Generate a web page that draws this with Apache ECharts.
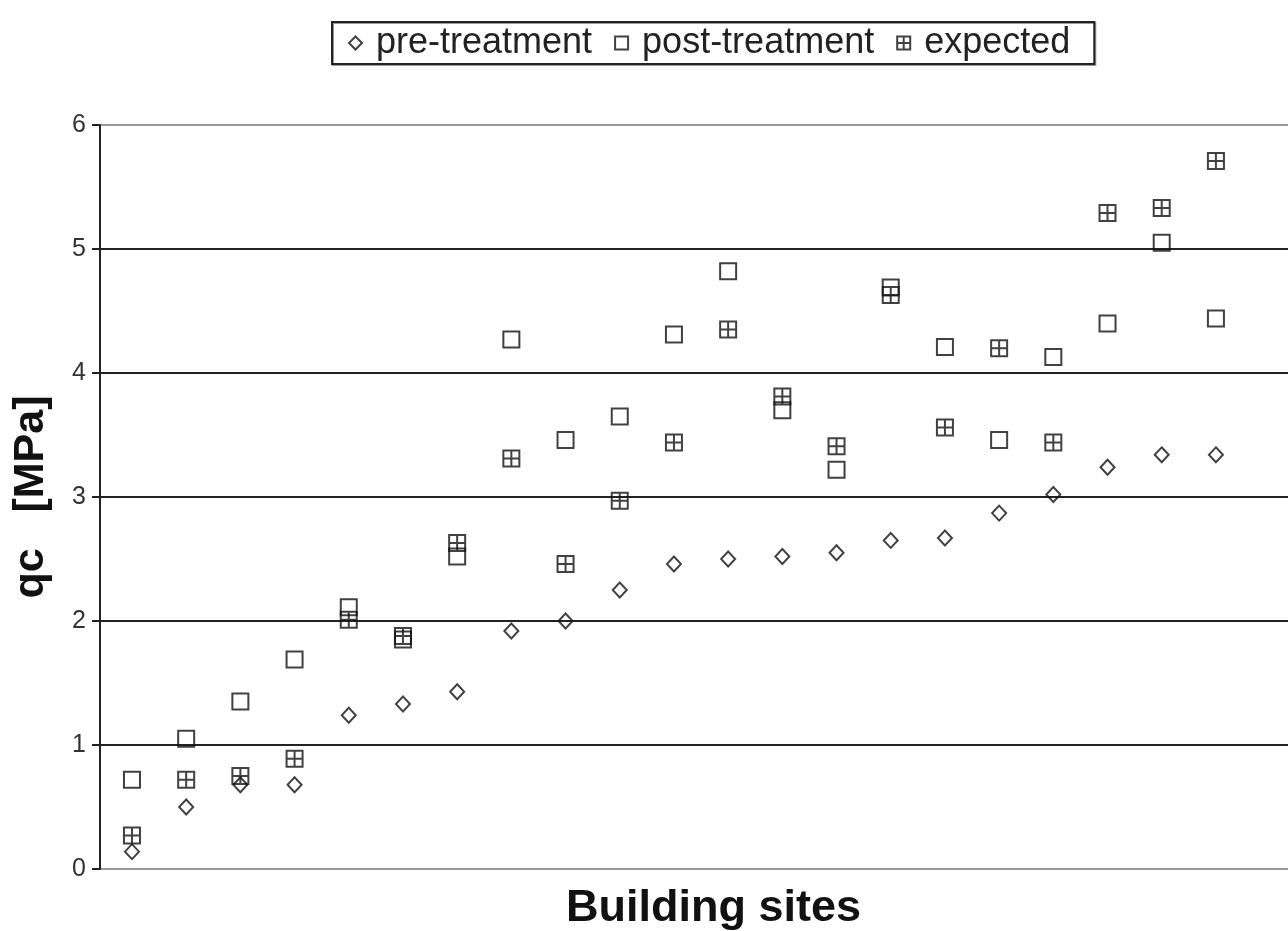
<!DOCTYPE html>
<html>
<head>
<meta charset="utf-8">
<script src="https://cdn.jsdelivr.net/npm/echarts@6/dist/echarts.min.js"></script>
<style>html,body{margin:0;padding:0;background:#fff}#c{width:1288px;height:931px}</style>
</head>
<body>
<div id="c"></div>
<script>
const sites = [1,2,3,4,5,6,7,8,9,10,11,12,13,14,15,16,17,18,19,20,21];
const preTreatment = [0.14,0.50,0.68,0.68,1.24,1.33,1.43,1.92,2.00,2.25,2.46,2.50,2.52,2.55,2.65,2.67,2.87,3.02,3.24,3.34,3.34];
const postTreatment = [0.72,1.05,1.35,1.69,2.11,1.85,2.52,4.27,3.46,3.65,4.31,4.82,3.70,3.22,4.69,4.21,3.46,4.13,4.40,5.05,4.44];
const expected = [0.27,0.72,0.75,0.89,2.01,1.88,2.63,3.31,2.46,2.97,3.44,4.35,3.81,3.41,4.63,3.56,4.20,3.44,5.29,5.33,5.71];
const yTicks = [0,1,2,3,4,5,6];

const pair = arr => sites.map((s,i)=>[s,arr[i]]);
const crossSq = 'path://M0,0H10V10H0ZM5,0V10M0,5H10';
const baseItem = {color:'rgba(255,255,255,0)', borderColor:'#111', borderWidth:2};
const FONT = 'Liberation Sans, Arial, sans-serif';

const chart = echarts.init(document.getElementById('c'));
chart.setOption({
  animation:false,
  backgroundColor:'#fff',
  textStyle:{fontFamily:FONT},
  legend:{
    top:22, left:332,
    data:['pre-treatment','post-treatment','expected'],
    orient:'horizontal',
    itemWidth:13, itemHeight:13, itemGap:22,
    padding:[3,24,3,16],
    borderColor:'#222', borderWidth:2,
    textStyle:{fontSize:36, color:'#222', fontFamily:FONT, padding:[0,0,0,9]},
    shadowColor:'rgba(0,0,0,0.4)', shadowOffsetX:1, shadowOffsetY:1
  },
  grid:{left:100, right:0, top:125, bottom:62, containLabel:false},
  xAxis:{
    type:'value', min:0.41, max:22.33,
    axisLine:{show:false}, axisTick:{show:false}, axisLabel:{show:false}, splitLine:{show:false}
  },
  yAxis:{
    type:'value', min:0, max:6, interval:1,
    axisLine:{show:true, lineStyle:{color:'#222', width:2}},
    axisTick:{show:true, inside:false, length:8, lineStyle:{color:'#222', width:2}},
    axisLabel:{fontSize:25, color:'#333', margin:14, formatter:v=>yTicks.includes(v)?String(v):''},
    splitLine:{show:true, lineStyle:{color:['#9a9a9a','#222','#222','#222','#222','#222','#9a9a9a'], width:2}},
    name:'qc   [MPa]', nameLocation:'middle', nameGap:47,
    nameTextStyle:{fontSize:43, fontWeight:'bold', color:'#111', fontFamily:FONT}
  },
  graphic:[{
    type:'text', left:566, top:886,
    style:{text:'Building sites', fontSize:45, fontWeight:'bold', fill:'#111', fontFamily:FONT}
  }],
  series:[
    {name:'pre-treatment', type:'scatter', symbol:'diamond', symbolSize:[14,15], data:pair(preTreatment), itemStyle:baseItem, z:3},
    {name:'post-treatment', type:'scatter', symbol:'rect', symbolSize:16, data:pair(postTreatment), itemStyle:baseItem, z:2},
    {name:'expected', type:'scatter', symbol:crossSq, symbolSize:16, data:pair(expected), itemStyle:baseItem, z:4}
  ]
});
</script>
</body>
</html>
